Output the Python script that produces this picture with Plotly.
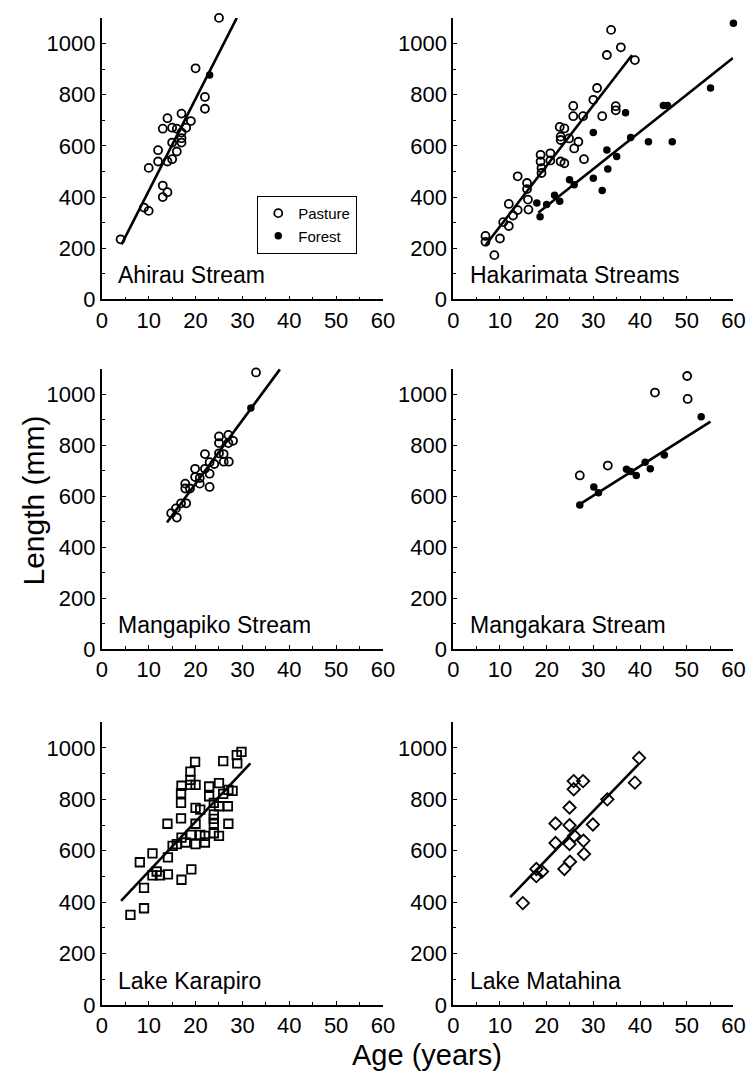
import plotly.graph_objects as go

# ---------------- data (age in years, length in mm) ----------------
ahirau_age = [4, 9, 10, 10, 12, 12, 13, 13, 14, 13, 14, 15, 16, 17, 18, 19, 17, 17, 17, 15, 16, 15, 14, 20, 22, 22, 25]
ahirau_len = [235, 359, 346, 514, 583, 539, 445, 400, 419, 667, 708, 671, 667, 726, 671, 697, 652, 630, 613, 613, 578, 548, 539, 903, 791, 745, 1100]
ahirau_forest_age = [23]
ahirau_forest_len = [877]
ahirau_fit_age = [4.2, 28.8]
ahirau_fit_len = [215, 1100]

hak_pasture_age = [6.9, 6.9, 8.8, 10, 10.7, 11.9, 11.9, 12.8, 13.8, 13.8, 15.8, 15.8, 16, 16.1, 18.7, 18.7, 18.9, 18.9,
                   20.8, 20.8, 22.8, 23.8, 23, 23, 23, 23.8, 24.8, 25.7, 25.7, 26.8, 25.9, 27.8, 28, 30, 30.8, 31.9,
                   32.9, 33.8, 34.8, 34.8, 35.9, 38.9]
hak_pasture_len = [248, 225, 173, 238, 302, 287, 373, 328, 349, 481, 455, 431, 390, 351, 565, 539, 513, 494,
                   571, 543, 674, 668, 636, 623, 539, 532, 629, 756, 716, 616, 590, 716, 548, 780, 826, 716,
                   955, 1053, 755, 739, 985, 935]
hak_forest_age = [17.9, 18.6, 20, 21.7, 22.8, 24.9, 25.9, 30, 30, 31.9, 32.9, 33.1, 35, 36.9, 38, 41.8, 45, 45.9, 46.9, 55.1, 60]
hak_forest_len = [377, 323, 371, 407, 384, 468, 448, 652, 473, 426, 584, 510, 558, 729, 633, 616, 758, 758, 616, 826, 1079]
hak_pasture_fit_age = [6.9, 38.3]
hak_pasture_fit_len = [212, 955]
hak_forest_fit_age = [18.2, 59.9]
hak_forest_fit_len = [339, 943]

mangapiko_age = [32.9, 27, 25, 25, 27, 28, 22, 25, 26, 26, 27.1, 24, 23, 19.9, 22, 23, 20.9, 19.9, 20.9, 23,
                 17.8, 18.8, 17.8, 16.9, 18, 15.8, 14.8, 16]
mangapiko_len = [1085, 840, 834, 808, 808, 817, 765, 768, 765, 735, 735, 726, 733, 707, 707, 688, 671, 675, 649, 636,
                 649, 630, 630, 572, 572, 552, 533, 516]
mangapiko_forest_age = [31.8]
mangapiko_forest_len = [946]
mangapiko_fit_age = [13.9, 38]
mangapiko_fit_len = [497, 1097]

mangakara_pasture_age = [27.1, 33.1, 43.2, 50.1, 50.2]
mangakara_pasture_len = [681, 720, 1006, 1071, 981]
mangakara_forest_age = [27.1, 30.1, 31.1, 37.1, 38, 39.2, 41.1, 42.2, 45.2, 53.1]
mangakara_forest_len = [565, 636, 613, 705, 697, 681, 733, 707, 761, 911]
mangakara_fit_age = [26.8, 55.1]
mangakara_fit_len = [565, 892]

karapiro_age = [6.1, 9, 8.1, 9, 10.8, 10.8, 11.7, 12.4, 14.1, 14.1, 14, 15.1, 16, 17, 17, 16.9, 16.9, 16.9, 17,
                17.9, 18.9, 18.9, 18.9, 20, 19.9, 19.1, 19, 20, 20, 20, 21, 21, 22, 22, 22.9, 22.9, 23.9, 23.9,
                23.9, 23.9, 23.9, 25, 25, 25, 25.9, 25.9, 26.9, 27, 27, 27.9, 28.8, 28.9, 29.8]
karapiro_len = [350, 376, 555, 455, 590, 504, 519, 504, 508, 574, 705, 619, 626, 487, 651, 726, 786, 824, 853,
                632, 908, 876, 856, 856, 946, 527, 662, 626, 705, 767, 760, 662, 632, 658, 850, 812, 786, 741,
                724, 705, 668, 658, 773, 863, 821, 949, 773, 705, 837, 833, 972, 940, 985]
karapiro_fit_age = [4.1, 31.7]
karapiro_fit_len = [405, 940]

matahina_age = [14.9, 17.8, 17.8, 19, 23.8, 25, 21.9, 21.9, 24.9, 24.9, 25.9, 24.9, 25.8, 25.8, 27.8, 27.9, 28,
                29.9, 33, 38.9, 39.8]
matahina_len = [396, 529, 501, 519, 529, 557, 630, 706, 699, 626, 658, 768, 871, 839, 871, 639, 587, 702, 800, 865, 961]
matahina_fit_age = [12.2, 39.6]
matahina_fit_len = [419, 935]

panel_names = ["Ahirau Stream", "Hakarimata Streams", "Mangapiko Stream",
               "Mangakara Stream", "Lake Karapiro", "Lake Matahina"]
x_ticks = [0, 10, 20, 30, 40, 50, 60]
y_ticks = [0, 200, 400, 600, 800, 1000]

# ---------------- layout geometry ----------------
W, H = 754, 1078
FONT = "Liberation Sans, Arial, Helvetica, sans-serif"
col_px = [(90, 378), (450, 737)]
row_px = [(10, 295), (365, 649), (723, 1009)]

fig = go.Figure()

def axis_names(i):
    n = "" if i == 1 else str(i)
    return "x" + n, "y" + n

open_marker = dict(symbol="circle-open", size=8, color="black", line=dict(width=1.8, color="black"))
filled_marker = dict(symbol="circle", size=7.5, color="black")
fit_line = dict(color="black", width=2.6)

def add_points(i, xs, ys, marker, name, show=False):
    xa, ya = axis_names(i)
    fig.add_trace(go.Scatter(x=xs, y=ys, mode="markers", marker=marker, name=name,
                             showlegend=show, xaxis=xa, yaxis=ya, cliponaxis=False))

def add_fit(i, xs, ys):
    xa, ya = axis_names(i)
    fig.add_trace(go.Scatter(x=xs, y=ys, mode="lines", line=fit_line, showlegend=False,
                             xaxis=xa, yaxis=ya, cliponaxis=False, hoverinfo="skip"))

# Panel 1: Ahirau
add_fit(1, ahirau_fit_age, ahirau_fit_len)
add_points(1, ahirau_age, ahirau_len, open_marker, "Pasture")
add_points(1, ahirau_forest_age, ahirau_forest_len, filled_marker, "Forest")
# Panel 2: Hakarimata
add_fit(2, hak_pasture_fit_age, hak_pasture_fit_len)
add_fit(2, hak_forest_fit_age, hak_forest_fit_len)
add_points(2, hak_pasture_age, hak_pasture_len, open_marker, "Pasture", show=True)
add_points(2, hak_forest_age, hak_forest_len, filled_marker, "Forest", show=True)
# Panel 3: Mangapiko
add_fit(3, mangapiko_fit_age, mangapiko_fit_len)
add_points(3, mangapiko_age, mangapiko_len, open_marker, "Pasture")
add_points(3, mangapiko_forest_age, mangapiko_forest_len, filled_marker, "Forest")
# Panel 4: Mangakara
add_fit(4, mangakara_fit_age, mangakara_fit_len)
add_points(4, mangakara_pasture_age, mangakara_pasture_len, open_marker, "Pasture")
add_points(4, mangakara_forest_age, mangakara_forest_len, filled_marker, "Forest")
# Panel 5: Karapiro
add_fit(5, karapiro_fit_age, karapiro_fit_len)
add_points(5, karapiro_age, karapiro_len,
           dict(symbol="square-open", size=8.5, color="black", line=dict(width=1.8, color="black")), "Karapiro")
# Panel 6: Matahina
add_fit(6, matahina_fit_age, matahina_fit_len)
add_points(6, matahina_age, matahina_len,
           dict(symbol="diamond-open", size=9.5, color="black", line=dict(width=1.8, color="black")), "Matahina")

layout = dict(
    width=W, height=H, margin=dict(l=0, r=0, t=0, b=0),
    paper_bgcolor="white", plot_bgcolor="white",
    font=dict(family=FONT, color="black"),
    showlegend=True,
    legend=dict(x=249 / W, y=1 - 190 / H, xanchor="left", yanchor="top",
                bgcolor="white", bordercolor="black", borderwidth=1.2,
                font=dict(size=15, family=FONT, color="black"),
                entrywidth=75, entrywidthmode="pixels",
                itemsizing="trace", tracegroupgap=0),
)

annotations = []
for i in range(1, 7):
    r = (i - 1) // 2
    c = (i - 1) % 2
    x0, x1 = col_px[c]
    y0, y1 = row_px[r]
    xk = "xaxis" if i == 1 else f"xaxis{i}"
    yk = "yaxis" if i == 1 else f"yaxis{i}"
    xa, ya = axis_names(i)
    layout[xk] = dict(
        domain=[x0 / W, x1 / W], anchor=ya, range=[0, 60],
        tickvals=x_ticks, ticks="inside", ticklen=4, tickwidth=1.3, tickcolor="black",
        showline=True, linecolor="black", linewidth=1.8, showgrid=False, zeroline=False,
        tickfont=dict(size=22, family=FONT, color="black"),
        minor=dict(dtick=5, tick0=0, ticks="inside", ticklen=3, tickwidth=1.1, tickcolor="black", showgrid=False),
    )
    layout[yk] = dict(
        domain=[1 - y1 / H, 1 - y0 / H], anchor=xa, range=[0, 1100],
        tickvals=y_ticks, ticks="inside", ticklen=4, tickwidth=1.3, tickcolor="black",
        showline=True, linecolor="black", linewidth=1.8, showgrid=False, zeroline=False,
        tickfont=dict(size=22, family=FONT, color="black"),
        minor=dict(dtick=100, tick0=0, ticks="inside", ticklen=3, tickwidth=1.1, tickcolor="black", showgrid=False),
    )
    annotations.append(dict(
        text=panel_names[i - 1], xref=f"{xa} domain", yref=f"{ya} domain",
        x=15 / 288, y=0.033, xanchor="left", yanchor="bottom", showarrow=False,
        font=dict(size=23, family=FONT, color="black"),
    ))

annotations.append(dict(text="Length (mm)", xref="paper", yref="paper", x=20 / W, y=1 - 499 / H,
                        textangle=-90, showarrow=False, xanchor="center", yanchor="middle",
                        font=dict(size=30, family=FONT, color="black")))
annotations.append(dict(text="Age (years)", xref="paper", yref="paper", x=423 / W, y=1 - 1060 / H,
                        showarrow=False, xanchor="center", yanchor="middle",
                        font=dict(size=29, family=FONT, color="black")))
layout["annotations"] = annotations

fig.update_layout(**layout)
fig.write_html("out.html")
